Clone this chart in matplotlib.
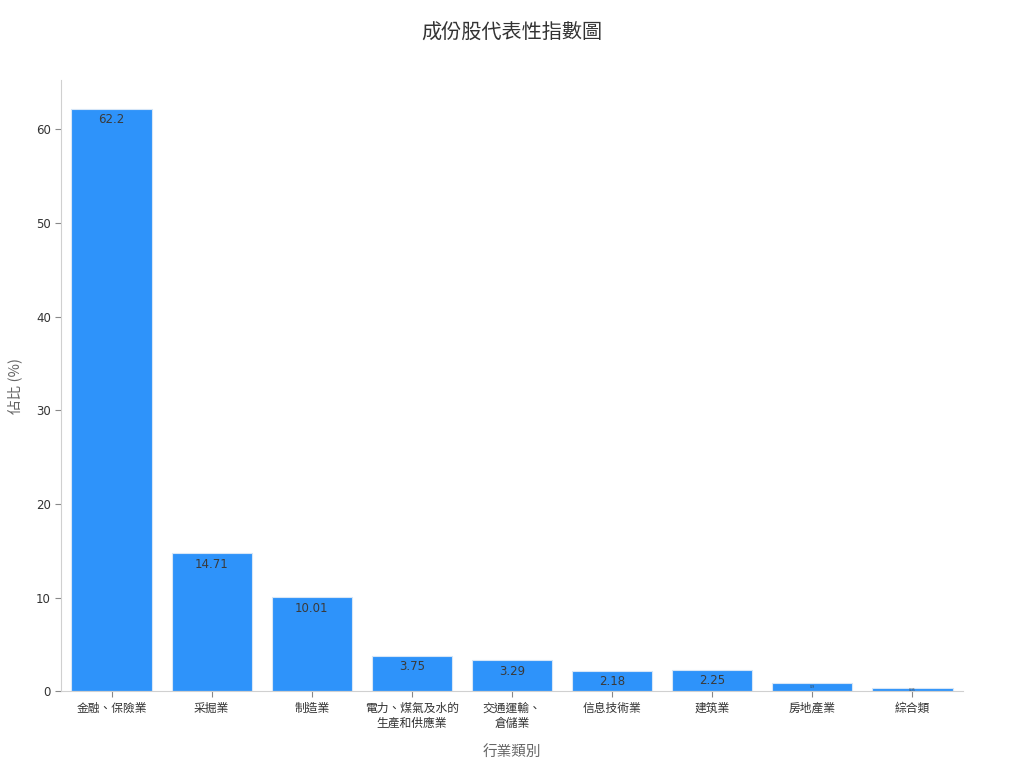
import matplotlib
matplotlib.use('Agg')
import matplotlib.pyplot as plt

plt.rcParams['font.family'] = ['Noto Sans CJK TC', 'DejaVu Sans']

# 資料
categories = ['金融、保險業', '采掘業', '制造業', '電力、煤氣及水的\n生產和供應業',
              '交通運輸、\n倉儲業', '信息技術業', '建筑業', '房地產業', '綜合類']
values = [62.2, 14.71, 10.01, 3.75, 3.29, 2.18, 2.25, 0.9, 0.35]
labels = ['62.2', '14.71', '10.01', '3.75', '3.29', '2.18', '2.25', '0.9', '0.35']

fig = plt.figure(figsize=(10.24, 7.68), dpi=100)
ax = fig.add_axes([0.06, 0.1, 0.88, 0.796])

x = list(range(len(categories)))
bars = ax.bar(x, values, width=0.8, color='#2e93fa', edgecolor='#d6e6f7', linewidth=0.8)

# 數值標籤（柱內頂部，矮柱縮小字體）
for b, lab, v in zip(bars, labels, values):
    cx = b.get_x() + b.get_width() / 2
    if v > 2:
        ax.annotate(lab, (cx, v), xytext=(0, -3), textcoords='offset points',
                    ha='center', va='top', fontsize=8.5, color='#3a3a3a',
                    family=['DejaVu Sans'])
    else:
        ax.text(cx, v / 2, lab, ha='center', va='center', fontsize=2.2,
                color='#3a3a3a', family=['DejaVu Sans'])

ax.set_xlim(-0.5, 8.5)
ax.set_ylim(0, 65.3)
ax.set_xticks(x)
ax.set_xticklabels(categories, fontsize=8.5, color='#333333', linespacing=1.2)
ax.set_yticks([0, 10, 20, 30, 40, 50, 60])
ax.tick_params(axis='y', labelsize=8.5, colors='#333333', length=4, color='#888888')
ax.tick_params(axis='x', length=4, color='#888888')
for lbl in ax.get_yticklabels():
    lbl.set_family(['DejaVu Sans'])

for s in ['top', 'right']:
    ax.spines[s].set_visible(False)
for s in ['left', 'bottom']:
    ax.spines[s].set_color('#d0d0d0')

ax.set_xlabel('行業類別', fontsize=10.5, color='#666666', labelpad=11)
ax.set_ylabel('佔比 (%)', fontsize=10.5, color='#666666', labelpad=10)
fig.suptitle('成份股代表性指數圖', fontsize=14.5, color='#333333', x=0.5, y=0.97)

fig.savefig('out.png', dpi=100)
